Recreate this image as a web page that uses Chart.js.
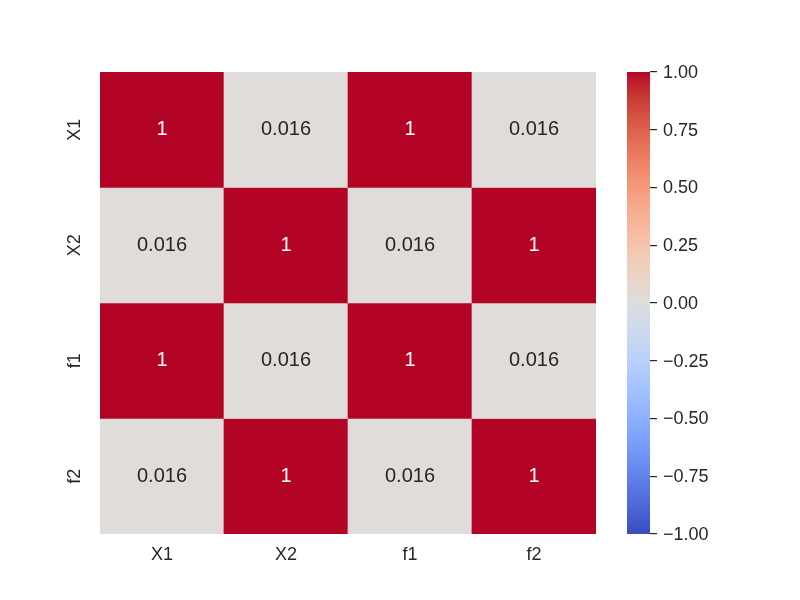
<!DOCTYPE html>
<html>
<head>
<meta charset="utf-8">
<script src="https://cdn.jsdelivr.net/npm/chart.js@4.4.1/dist/chart.umd.min.js"></script>
<style>
  body { margin: 0; background: #fff; }
  #wrap { position: relative; width: 800px; height: 600px; }
  canvas { position: absolute; top: 0; }
</style>
</head>
<body>
<div id="wrap">
  <canvas id="heat" width="800" height="600" style="left:0"></canvas>
  <canvas id="cbar" width="200" height="600" style="left:600px"></canvas>
</div>
<script>
// data
const xLabels = ['X1', 'X2', 'f1', 'f2'];
const yLabels = ['X1', 'X2', 'f1', 'f2'];
const corrX1 = [1, 0.016, 1, 0.016];
const corrX2 = [0.016, 1, 0.016, 1];
const corrF1 = [1, 0.016, 1, 0.016];
const corrF2 = [0.016, 1, 0.016, 1];
const corrRows = [corrX1, corrX2, corrF1, corrF2];
const cbTicks = [-1, -0.75, -0.5, -0.25, 0, 0.25, 0.5, 0.75, 1];

const textColor = '#262626';
const fontFamily = '"Liberation Sans", Arial, sans-serif';

// coolwarm colormap (evenly spaced stops, 0..1)
const coolwarm = [
  [59,76,192],[68,90,204],[77,104,215],[87,117,225],[98,130,234],[108,142,241],
  [119,154,247],[130,165,251],[141,176,254],[152,185,255],[163,194,255],[174,201,253],
  [184,208,249],[194,213,244],[204,217,238],[213,219,230],[221,221,221],[229,216,209],
  [236,211,197],[241,204,184],[245,196,172],[247,187,160],[247,177,148],[247,166,135],
  [244,154,123],[241,141,111],[236,127,99],[229,112,88],[222,96,77],[213,80,66],
  [203,62,56],[192,40,47],[180,4,38]
];

function cmap(v) {
  let t = (v + 1) / 2;
  t = Math.max(0, Math.min(1, t));
  const pos = t * (coolwarm.length - 1);
  const i = Math.min(Math.floor(pos), coolwarm.length - 2);
  const f = pos - i;
  const a = coolwarm[i], b = coolwarm[i + 1];
  const c = a.map((x, k) => Math.round(x + (b[k] - x) * f));
  return 'rgb(' + c.join(',') + ')';
}

const cellLabels = {
  id: 'cellLabels',
  afterDatasetsDraw(chart) {
    const ctx = chart.ctx;
    ctx.save();
    ctx.font = '20px ' + fontFamily;
    ctx.textAlign = 'center';
    ctx.textBaseline = 'middle';
    chart.data.datasets.forEach((ds, r) => {
      const meta = chart.getDatasetMeta(r);
      meta.data.forEach((el, c) => {
        const v = ds.corr[c];
        ctx.fillStyle = v > 0.5 ? '#ffffff' : textColor;
        ctx.fillText(String(v), el.x, (el.y + el.base) / 2);
      });
    });
    // row labels, rotated like the reference
    const ys = chart.scales.y;
    ctx.font = '18px ' + fontFamily;
    ctx.fillStyle = textColor;
    yLabels.forEach((t, i) => {
      const y = ys.getPixelForValue(i + 0.5);
      ctx.save();
      ctx.translate(75, y);
      ctx.rotate(-Math.PI / 2);
      ctx.fillText(t, 0, 0);
      ctx.restore();
    });
    ctx.restore();
  }
};

new Chart(document.getElementById('heat').getContext('2d'), {
  type: 'bar',
  data: {
    labels: xLabels,
    datasets: yLabels.map((name, r) => ({
      label: name,
      data: corrRows[r].map(() => 1),
      corr: corrRows[r],
      backgroundColor: corrRows[r].map(cmap),
      borderWidth: 0,
      categoryPercentage: 1,
      barPercentage: 1
    }))
  },
  options: {
    responsive: false,
    animation: false,
    devicePixelRatio: 1,
    layout: { padding: { left: 60, top: 72, right: 204, bottom: 26 } },
    plugins: { legend: { display: false }, tooltip: { enabled: false } },
    scales: {
      x: {
        stacked: true,
        grid: { display: false },
        border: { display: false },
        ticks: { color: textColor, font: { family: fontFamily, size: 18 }, padding: 2 },
        afterFit(s) { s.height = 40; }
      },
      y: {
        stacked: true,
        min: 0,
        max: 4,
        reverse: true,
        grid: { display: false },
        border: { display: false },
        ticks: { display: false },
        afterFit(s) { s.width = 40; }
      }
    }
  },
  plugins: [cellLabels]
});

new Chart(document.getElementById('cbar').getContext('2d'), {
  type: 'bar',
  data: {
    labels: ['cb'],
    datasets: [{
      data: [[cbTicks[0], cbTicks[cbTicks.length - 1]]],
      borderWidth: 0,
      categoryPercentage: 1,
      barPercentage: 1,
      backgroundColor(context) {
        const area = context.chart.chartArea;
        if (!area) return cmap(0);
        const g = context.chart.ctx.createLinearGradient(0, area.bottom, 0, area.top);
        coolwarm.forEach((c, i) => g.addColorStop(i / (coolwarm.length - 1), 'rgb(' + c.join(',') + ')'));
        return g;
      }
    }]
  },
  options: {
    responsive: false,
    animation: false,
    devicePixelRatio: 1,
    layout: { padding: { left: 27, top: 72, right: 0, bottom: 66 } },
    plugins: { legend: { display: false }, tooltip: { enabled: false } },
    scales: {
      x: { display: false },
      y: {
        position: 'right',
        min: -1,
        max: 1,
        afterBuildTicks(s) { s.ticks = cbTicks.map(v => ({ value: v })); },
        grid: { drawOnChartArea: false, drawTicks: true, tickLength: 7, color: textColor, lineWidth: 1.2 },
        border: { display: false },
        ticks: {
          color: textColor,
          padding: 6,
          labelOffset: 1,
          font: { family: fontFamily, size: 18 },
          callback: v => (v < 0 ? '\u2212' : '') + Math.abs(v).toFixed(2)
        },
        afterFit(s) { s.width = 150; }
      }
    }
  }
});
</script>
</body>
</html>
